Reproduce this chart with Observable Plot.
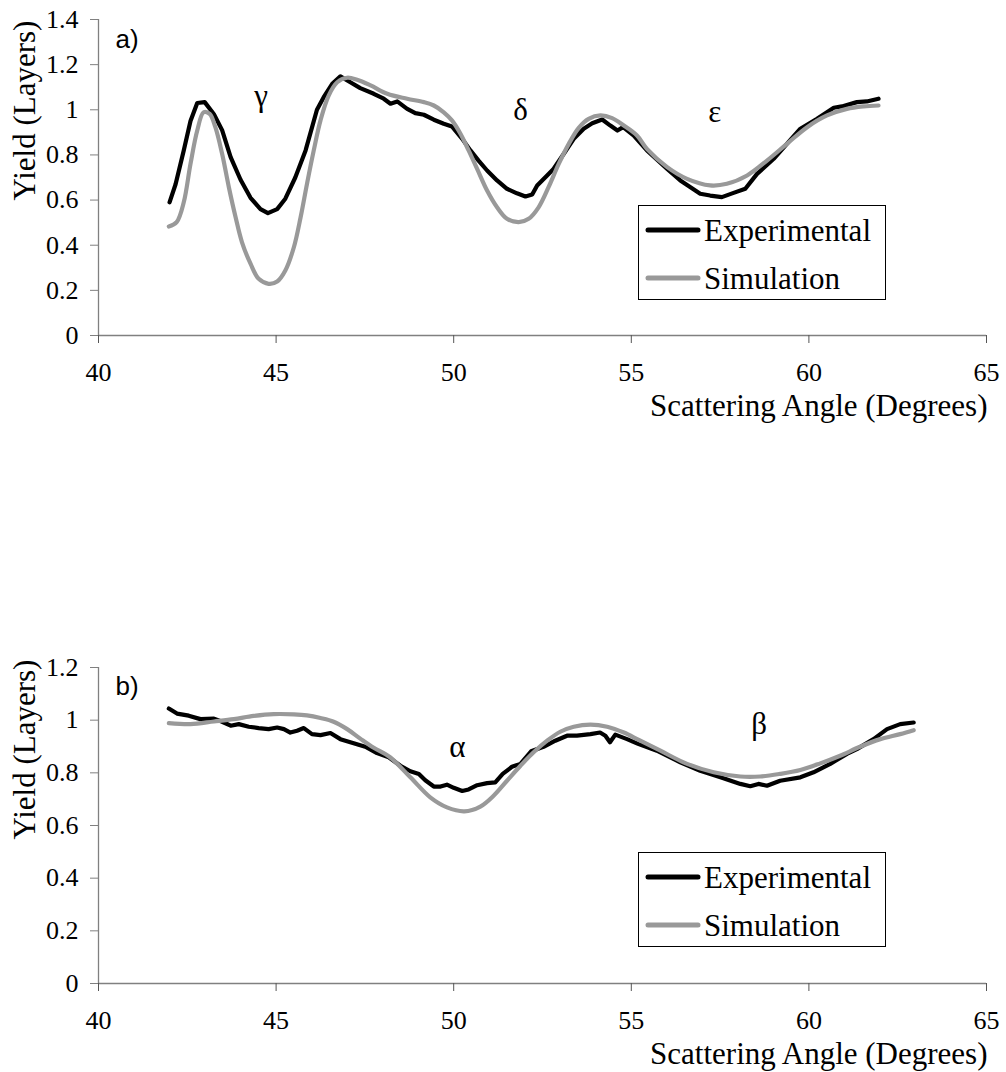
<!DOCTYPE html>
<html><head><meta charset="utf-8">
<script src="https://cdn.jsdelivr.net/npm/d3@7"></script>
<script src="https://cdn.jsdelivr.net/npm/@observablehq/plot@0.6"></script>
<style>
body{margin:0;background:#fff;}
#wrap{position:relative;width:1006px;height:1072px;font-family:"Liberation Serif","Times New Roman",serif;}
#wrap svg{display:block;}
.legend{position:absolute;left:638px;width:248px;height:95px;box-sizing:border-box;border:1px solid #000;background:#fff;}
.row{position:absolute;left:0;height:0;}
.row svg{position:absolute;left:6px;top:-4px;}
.row span{position:absolute;left:65px;font-size:31px;line-height:31px;white-space:nowrap;color:#000;}
</style></head><body><div id="wrap"></div>
<script>
// ---------- data ----------
const xTicks = [40, 45, 50, 55, 60, 65];
const yTicksA = [0, 0.2, 0.4, 0.6, 0.8, 1, 1.2, 1.4];
const yTicksB = [0, 0.2, 0.4, 0.6, 0.8, 1, 1.2];
const seriesNames = ["Experimental", "Simulation"];
const yTitle = "Yield (Layers)";
const xTitle = "Scattering Angle (Degrees)";

// panel a) experimental
const expAX = [42.0,42.17,42.4,42.59,42.78,42.99,43.25,43.48,43.72,44.0,44.28,44.56,44.77,45.03,45.26,45.54,45.83,46.15,46.34,46.58,46.81,47.09,47.37,47.75,48.03,48.22,48.41,48.69,48.92,49.16,49.44,49.72,49.95,50.24,50.47,50.7,50.94,51.22,51.5,51.78,52.02,52.21,52.35,52.63,52.81,53.1,53.38,53.66,53.9,54.18,54.41,54.61,54.77,55.07,55.44,56.01,56.38,56.94,57.22,57.55,57.88,58.21,58.54,59.01,59.38,59.76,60.23,60.7,60.93,61.35,61.63,61.96];
const expAY = [0.59,0.67,0.82,0.95,1.03,1.034,0.98,0.91,0.79,0.69,0.61,0.56,0.542,0.56,0.606,0.7,0.82,1.0,1.056,1.115,1.148,1.122,1.096,1.071,1.049,1.027,1.037,1.004,0.985,0.978,0.956,0.938,0.926,0.871,0.82,0.775,0.731,0.687,0.65,0.63,0.616,0.625,0.665,0.709,0.738,0.805,0.871,0.916,0.94,0.957,0.93,0.908,0.923,0.886,0.82,0.738,0.687,0.628,0.62,0.613,0.632,0.65,0.716,0.783,0.849,0.916,0.96,1.009,1.015,1.034,1.037,1.049];
// panel a) simulation
const simAX = [41.98,42.2,42.4,42.59,42.78,42.96,43.13,43.29,43.48,43.67,43.86,44.04,44.28,44.51,44.79,45.03,45.26,45.5,45.69,45.87,46.06,46.25,46.48,46.72,47.0,47.28,47.66,48.13,48.69,49.16,49.44,49.72,49.95,50.19,50.42,50.66,50.94,51.22,51.5,51.83,52.11,52.39,52.67,52.96,53.24,53.52,53.8,54.13,54.46,54.79,55.16,55.44,56.01,56.57,57.22,57.69,58.26,58.82,59.38,59.95,60.51,61.07,61.54,61.96];
const simAY = [0.483,0.502,0.59,0.76,0.908,0.989,0.982,0.923,0.805,0.657,0.524,0.413,0.318,0.251,0.229,0.239,0.288,0.391,0.524,0.672,0.82,0.953,1.063,1.122,1.142,1.133,1.108,1.071,1.049,1.034,1.019,0.989,0.953,0.894,0.82,0.738,0.642,0.568,0.517,0.502,0.517,0.568,0.657,0.761,0.849,0.92,0.96,0.975,0.963,0.93,0.886,0.827,0.746,0.694,0.665,0.672,0.709,0.775,0.849,0.923,0.975,1.004,1.015,1.019];
// panel b) experimental
const expBX = [41.98,42.21,42.54,42.87,43.25,43.48,43.72,43.95,44.23,44.51,44.79,45.03,45.22,45.4,45.59,45.78,46.01,46.25,46.53,46.81,47.09,47.51,47.84,48.17,48.5,48.78,49.02,49.2,49.44,49.63,49.81,50.0,50.24,50.42,50.66,50.94,51.17,51.38,51.64,51.88,52.18,52.53,52.86,53.19,53.47,53.85,54.12,54.27,54.4,54.55,54.88,55.19,55.72,56.38,56.94,57.51,58.07,58.35,58.58,58.82,59.19,59.76,60.13,60.6,61.07,61.35,61.82,62.2,62.57,62.95];
const expBY = [1.044,1.025,1.017,1.004,1.006,0.994,0.979,0.985,0.975,0.97,0.966,0.972,0.966,0.953,0.96,0.97,0.947,0.943,0.951,0.928,0.916,0.899,0.875,0.859,0.827,0.806,0.796,0.772,0.748,0.748,0.755,0.743,0.731,0.737,0.753,0.761,0.764,0.796,0.823,0.834,0.882,0.899,0.922,0.941,0.941,0.947,0.953,0.941,0.916,0.945,0.928,0.91,0.884,0.84,0.808,0.783,0.758,0.749,0.758,0.751,0.77,0.783,0.802,0.834,0.872,0.89,0.928,0.966,0.985,0.991];
// panel b) simulation
const simBX = [41.98,42.59,43.25,43.81,44.37,44.93,45.5,45.87,46.25,46.62,47.0,47.37,47.75,48.2,48.78,49.34,49.81,50.3,50.75,51.13,51.5,51.88,52.25,52.63,53.0,53.38,53.85,54.32,54.79,55.21,55.82,56.57,57.32,58.07,58.63,59.19,59.76,60.32,60.88,61.44,62.01,62.57,62.95];
const simBY = [0.989,0.985,0.995,1.004,1.016,1.023,1.022,1.018,1.008,0.994,0.966,0.93,0.895,0.86,0.783,0.707,0.669,0.654,0.672,0.714,0.77,0.827,0.878,0.922,0.956,0.975,0.983,0.975,0.953,0.925,0.884,0.834,0.802,0.786,0.786,0.796,0.811,0.836,0.865,0.899,0.928,0.947,0.962];

// peak annotations
const greekA = ["γ", "δ", "ε"];
const greekAX = [44.58, 51.88, 57.35];
const greekAY = [1.015, 0.953, 0.945];
const greekB = ["α", "β"];
const greekBX = [50.1, 58.6];
const greekBY = [0.859, 0.948];

// ---------- style ----------
const SERIF = "Liberation Serif, Times New Roman, Tinos, serif";
const SANS = "Liberation Sans, Arial, sans-serif";
const BLACK = "#000000";
const GREY = "#999999";
const AXIS = "#808080";
const TICK = "#555555";
const fmt = (d) => String(d);

function panel(opts) {
  const {expX, expY, simX, simY, yDomain, yTicks, mTop, mBottom, tag, tagDy, gL, gX, gY, yDy} = opts;
  return Plot.plot({
    width: 1006, height: 536,
    marginLeft: 98, marginRight: 20, marginTop: mTop, marginBottom: mBottom,
    x: {domain: [40, 65]},
    y: {domain: yDomain},
    style: {background: "transparent", overflow: "visible", color: "#000"},
    marks: [
      Plot.ruleX([40], {stroke: AXIS, strokeWidth: 1.3}),
      Plot.ruleY([0], {stroke: AXIS, strokeWidth: 1.3}),
      Plot.axisX({ticks: xTicks, tickFormat: fmt, tickSize: 8, tickPadding: 19, fontSize: 26, stroke: TICK, fill: "#000", label: null}),
      Plot.axisY({ticks: yTicks, tickFormat: fmt, tickSize: 8, tickPadding: 12, fontSize: 26, stroke: AXIS, fill: "#000", label: null}),
      Plot.line(expY, {x: expX, y: expY, stroke: BLACK, strokeWidth: 4.2, strokeLinejoin: "round", strokeLinecap: "round"}),
      Plot.line(simY, {x: simX, y: simY, stroke: GREY, strokeWidth: 4.2, strokeLinejoin: "round", strokeLinecap: "round", curve: "catmull-rom"}),
      Plot.text(gL, {x: gX, y: gY, text: (d) => d, fontSize: 31, lineAnchor: "bottom", fill: "#000"}),
      Plot.text([tag], {frameAnchor: "top-left", text: (d) => d, textAnchor: "start", lineAnchor: "bottom", dx: 17, dy: tagDy, fontSize: 26, fill: "#000"}),
      Plot.text([yTitle], {frameAnchor: "top-left", text: (d) => d, rotate: -90, textAnchor: "middle", lineAnchor: "bottom", dx: -63.3, dy: yDy, fontSize: 31, fill: "#000"}),
      Plot.text([xTitle], {frameAnchor: "bottom-right", text: (d) => d, textAnchor: "end", lineAnchor: "bottom", dx: 1, dy: 80, fontSize: 31, fill: "#000"})
    ]
  });
}

const wrap = document.getElementById("wrap");
const svgA = panel({expX: expAX, expY: expAY, simX: simAX, simY: simAY, yDomain: [0, 1.4], yTicks: yTicksA, mTop: 19, mBottom: 201, tag: "a)", tagDy: 28.5, gL: greekA, gX: greekAX, gY: greekAY, yDy: 91});
const svgB = panel({expX: expBX, expY: expBY, simX: simBX, simY: simBY, yDomain: [0, 1.2], yTicks: yTicksB, mTop: 131, mBottom: 89, tag: "b)", tagDy: 27, gL: greekB, gX: greekBX, gY: greekBY, yDy: 82});
wrap.appendChild(svgA);
wrap.appendChild(svgB);

// faces: serif everywhere, sans-serif for the panel tags
for (const svg of [svgA, svgB]) {
  svg.setAttribute("font-family", SERIF);
  svg.style.fontFamily = SERIF;
  svg.querySelectorAll("g").forEach((g) => g.removeAttribute("font-family"));
  svg.querySelectorAll("text").forEach((t) => {
    const fam = /^[ab]\)$/.test(t.textContent) ? SANS : SERIF;
    t.setAttribute("font-family", fam);
    t.style.setProperty("font-family", fam, "important");
  });
}

function legend(top) {
  const box = document.createElement("div");
  box.className = "legend";
  box.style.top = top + "px";
  const colors = [BLACK, GREY];
  const rows = [24, 72];
  seriesNames.forEach((name, i) => {
    const row = document.createElement("div");
    row.className = "row";
    row.style.top = rows[i] + "px";
    row.innerHTML = `<svg width="56" height="8"><line x1="3" y1="4" x2="53" y2="4" stroke="${colors[i]}" stroke-width="5" stroke-linecap="round"/></svg><span style="top:-15px">${name}</span>`;
    box.appendChild(row);
  });
  wrap.appendChild(box);
}
legend(205);
legend(852);
</script></body></html>
